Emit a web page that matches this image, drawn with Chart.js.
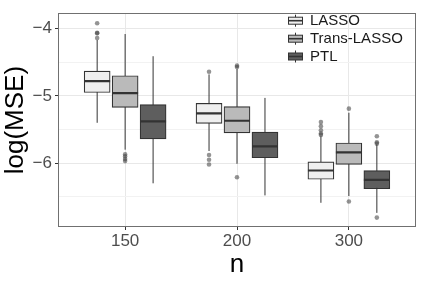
<!DOCTYPE html>
<html>
<head>
<meta charset="utf-8">
<script src="https://cdn.jsdelivr.net/npm/chart.js@4.4.1/dist/chart.umd.min.js"></script>
<style>
  html, body { margin: 0; padding: 0; background: #ffffff; }
  #wrap { width: 422px; height: 282px; }
</style>
</head>
<body>
<div id="wrap"><canvas id="c" width="422" height="282"></canvas></div>
<script>
// ---------- data ----------
const categories = ['150', '200', '300'];
const seriesNames = ['LASSO', 'Trans-LASSO', 'PTL'];

const lassoLow    = [-5.40, -5.82, -6.59];
const lassoQ1     = [-4.95, -5.41, -6.24];
const lassoMedian = [-4.78, -5.26, -6.11];
const lassoQ3     = [-4.63, -5.11, -5.98];
const lassoHigh   = [-4.17, -4.68, -5.60];
const lassoOutliers = [[-3.92, -4.06, -4.07, -4.14], [-4.64, -5.88, -5.95, -6.02], [-5.39, -5.45, -5.51, -5.56, -5.58]];

const transLow    = [-5.80, -6.01, -6.49];
const transQ1     = [-5.17, -5.55, -6.02];
const transMedian = [-4.96, -5.37, -5.84];
const transQ3     = [-4.70, -5.16, -5.70];
const transHigh   = [-4.08, -4.60, -5.25];
const transOutliers = [[-5.87, -5.90, -5.94, -5.97], [-4.55, -4.57, -6.21], [-5.19, -6.57]];

const ptlLow    = [-6.30, -6.48, -6.74];
const ptlQ1     = [-5.64, -5.92, -6.38];
const ptlMedian = [-5.38, -5.75, -6.25];
const ptlQ3     = [-5.13, -5.54, -6.11];
const ptlHigh   = [-4.41, -5.03, -5.72];
const ptlOutliers = [[], [], [-5.60, -5.69, -5.71, -6.81]];

const yMajorTicks = [-6, -5, -4];
const yMinorTicks = [-6.5, -5.5, -4.5];

// ---------- styling ----------
const fills = ['#efefef', '#bababa', '#5e5e5e'];
const lineCol = '#333333';
const dodge = [-0.25, 0, 0.25];
const boxHalf = 0.116;   // half box width in x units
const series = [
  {low: lassoLow, q1: lassoQ1, med: lassoMedian, q3: lassoQ3, high: lassoHigh, out: lassoOutliers},
  {low: transLow, q1: transQ1, med: transMedian, q3: transQ3, high: transHigh, out: transOutliers},
  {low: ptlLow, q1: ptlQ1, med: ptlMedian, q3: ptlQ3, high: ptlHigh, out: ptlOutliers}
];

const datasets = [];
series.forEach((s, si) => {
  const xs = categories.map((c, i) => i + 1 + dodge[si]);
  // whiskers
  const wh = [];
  xs.forEach((x, i) => { wh.push({x: x, y: s.low[i]}, {x: x, y: s.high[i]}, {x: x, y: null}); });
  datasets.push({type: 'line', data: wh, borderColor: lineCol, borderWidth: 1, pointRadius: 0,
                 spanGaps: false, tension: 0, order: 5});
  // boxes
  datasets.push({type: 'bar', label: seriesNames[si],
                 data: xs.map((x, i) => ({x: x, y: [s.q1[i], s.q3[i]]})),
                 backgroundColor: fills[si], borderColor: lineCol, borderWidth: 1.2,
                 borderSkipped: false, barThickness: 26, grouped: false, order: 3});
  // medians
  const md = [];
  xs.forEach((x, i) => { md.push({x: x - boxHalf, y: s.med[i]}, {x: x + boxHalf, y: s.med[i]}, {x: x, y: null}); });
  datasets.push({type: 'line', data: md, borderColor: lineCol, borderWidth: 2.2, pointRadius: 0,
                 spanGaps: false, tension: 0, order: 1});
  // outliers
  const od = [];
  xs.forEach((x, i) => { s.out[i].forEach(v => od.push({x: x, y: v})); });
  datasets.push({type: 'scatter', data: od, showLine: false, pointRadius: 2.3, borderWidth: 0,
                 pointBackgroundColor: 'rgba(60,60,60,0.55)', pointBorderColor: 'rgba(0,0,0,0)', order: 0});
});

const panelPlugin = {
  id: 'panel',
  afterDraw(chart) {
    const ctx = chart.ctx, a = chart.chartArea;
    ctx.save();
    ctx.strokeStyle = '#707070';
    ctx.lineWidth = 1;
    ctx.strokeRect(Math.round(a.left) + 0.5, Math.round(a.top) + 0.5,
                   Math.round(a.right - a.left) - 1, Math.round(a.bottom - a.top) - 1);
    // legend
    const rows = [a.top + 7.5, a.top + 25.5, a.top + 43.3];
    const cx = a.right - 120.5;
    seriesNames.forEach((name, i) => {
      const cy = rows[i];
      ctx.strokeStyle = lineCol;
      ctx.lineWidth = 1;
      ctx.beginPath();
      ctx.moveTo(cx, cy - 6); ctx.lineTo(cx, cy + 6);
      ctx.stroke();
      ctx.fillStyle = fills[i];
      ctx.fillRect(cx - 7, cy - 3.5, 14, 7);
      ctx.strokeRect(cx - 7, cy - 3.5, 14, 7);
      ctx.lineWidth = 1.6;
      ctx.beginPath();
      ctx.moveTo(cx - 7, cy); ctx.lineTo(cx + 7, cy);
      ctx.stroke();
      ctx.fillStyle = '#1a1a1a';
      ctx.font = '15px "Liberation Sans", Arial, sans-serif';
      ctx.textBaseline = 'middle';
      ctx.textAlign = 'left';
      ctx.fillText(name, cx + 14.5, cy + 0.5);
    });
    ctx.restore();
  }
};

new Chart(document.getElementById('c'), {
  type: 'bar',
  data: {datasets: datasets},
  options: {
    responsive: false,
    animation: false,
    layout: {padding: {left: 0, top: 5, right: 6, bottom: 0}},
    plugins: {legend: {display: false}, tooltip: {enabled: false}},
    scales: {
      x: {
        type: 'linear', min: 0.4, max: 3.6, offset: false,
        afterBuildTicks(scale) { scale.ticks = categories.map((c, i) => ({value: i + 1})); },
        afterFit(scale) { scale.height = 55; },
        ticks: {
          callback: (v) => categories[Math.round(v) - 1],
          font: {family: '"Liberation Sans", Arial, sans-serif', size: 17},
          color: '#4d4d4d', padding: 1, maxRotation: 0, autoSkip: false
        },
        grid: {offset: false, color: '#e8e8e8', lineWidth: 1, tickLength: 3, tickColor: '#333333'},
        border: {display: false},
        title: {display: true, text: 'n', color: '#000000',
                font: {family: '"Liberation Sans", Arial, sans-serif', size: 26},
                padding: {top: 0, bottom: 2}}
      },
      y: {
        type: 'linear', min: -6.95, max: -3.77,
        afterBuildTicks(scale) {
          scale.ticks = yMinorTicks.concat(yMajorTicks).sort((p, q) => p - q).map(v => ({value: v}));
        },
        afterFit(scale) { scale.width = 58; },
        ticks: {
          callback: (v) => yMajorTicks.includes(v) ? (v < 0 ? '\u2212' + Math.abs(v) : String(v)) : '',
          font: {family: '"Liberation Sans", Arial, sans-serif', size: 17},
          color: '#4d4d4d', padding: 3, autoSkip: false
        },
        grid: {
          color: (c) => yMajorTicks.includes(c.tick && c.tick.value) ? '#e8e8e8' : '#f2f2f2',
          lineWidth: 1, tickLength: 3,
          tickColor: (c) => yMajorTicks.includes(c.tick && c.tick.value) ? '#333333' : 'rgba(0,0,0,0)'
        },
        border: {display: false},
        title: {display: true, text: 'log(MSE)', color: '#000000',
                font: {family: '"Liberation Sans", Arial, sans-serif', size: 26},
                padding: {top: 0, bottom: 0}}
      }
    }
  },
  plugins: [panelPlugin]
});
</script>
</body>
</html>
